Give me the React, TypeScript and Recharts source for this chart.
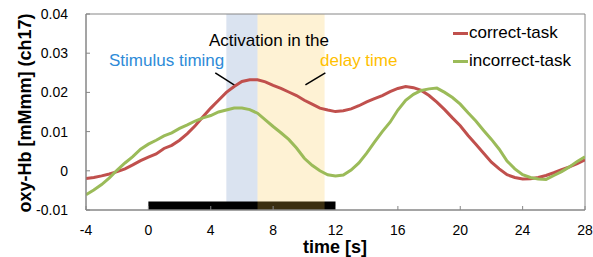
import React from 'react';
import {
  LineChart,
  Line,
  XAxis,
  YAxis,
  ReferenceArea,
  ReferenceLine,
  Label,
} from 'recharts';

// time axis (s), sampled every 0.5 s
const times = [
  -4, -3.5, -3, -2.5, -2, -1.5, -1, -0.5, 0, 0.5, 1, 1.5, 2, 2.5, 3, 3.5, 4, 4.5, 5, 5.5, 6, 6.5,
  7, 7.5, 8, 8.5, 9, 9.5, 10, 10.5, 11, 11.5, 12, 12.5, 13, 13.5, 14, 14.5, 15, 15.5, 16, 16.5,
  17, 17.5, 18, 18.5, 19, 19.5, 20, 20.5, 21, 21.5, 22, 22.5, 23, 23.5, 24, 24.5, 25, 25.5, 26,
  26.5, 27, 27.5, 28,
];

const correctTask = [
  -0.002, -0.0017, -0.0013, -0.0008, -0.0002, 0.0005, 0.0015, 0.0026, 0.0035, 0.0043, 0.0057,
  0.0065, 0.0078, 0.0095, 0.0115, 0.0138, 0.016, 0.018, 0.02, 0.0215, 0.0228, 0.0232, 0.0232,
  0.0227, 0.0218, 0.021, 0.0201, 0.0192, 0.018, 0.017, 0.016, 0.0155, 0.0151, 0.0153, 0.0158,
  0.0166, 0.0176, 0.0184, 0.0192, 0.0202, 0.021, 0.0215, 0.0212, 0.0205, 0.0192, 0.0175, 0.0156,
  0.0135, 0.0115, 0.009, 0.0068, 0.0045, 0.0022, 0.0005, -0.001, -0.0017, -0.0021, -0.002,
  -0.0017, -0.0012, -0.0005, 0.0003, 0.001, 0.0018, 0.0028,
];

const incorrectTask = [
  -0.0061, -0.0049, -0.0035, -0.0018, 0.0002, 0.002, 0.0036, 0.0055, 0.0068, 0.0078, 0.0089,
  0.0097, 0.0108, 0.0117, 0.0127, 0.0135, 0.0141, 0.015, 0.0155, 0.016, 0.016, 0.0156, 0.0147,
  0.013, 0.0113, 0.0097, 0.008, 0.0058, 0.0032, 0.0014, 0, -0.001, -0.0013, -0.0011, 0.0002,
  0.002, 0.0045, 0.0073, 0.01, 0.0124, 0.0155, 0.018, 0.0195, 0.0205, 0.0209, 0.0211, 0.02,
  0.0187, 0.017, 0.0148, 0.0127, 0.0103, 0.008, 0.0055, 0.0025, 0.0005, -0.001, -0.0017,
  -0.0021, -0.0022, -0.0012, -0.0002, 0.001, 0.0024, 0.0036,
];

const xTicks = [-4, 0, 4, 8, 12, 16, 20, 24, 28];
const yTicks = [-0.01, 0, 0.01, 0.02, 0.03, 0.04];

// shaded periods and the task bar (s)
const stimulusWindow = [5, 7];
const delayWindow = [7, 11.3];
const taskBar = [0, 12];

const seriesNames = ['correct-task', 'incorrect-task'];
const seriesColors = ['#c0504d', '#9bbb59'];

const data = times.map((t, i) => ({
  t,
  correct: correctTask[i],
  incorrect: incorrectTask[i],
}));

const FONT = '"Liberation Sans", Arial, sans-serif';
const AXIS = '#868686';

function LegendBox() {
  return (
    <div
      style={{
        position: 'absolute',
        left: 453,
        top: 19,
        fontFamily: FONT,
        fontSize: 17,
        color: '#000',
        lineHeight: '28px',
      }}
    >
      {seriesNames.map((name, i) => (
        <div key={name} style={{ display: 'flex', alignItems: 'center' }}>
          <span
            style={{
              display: 'inline-block',
              width: 15,
              height: 3,
              background: seriesColors[i],
              marginRight: 1,
            }}
          />
          {name}
        </div>
      ))}
    </div>
  );
}

// annotation texts sit above the shaded bands
function Annotations() {
  return (
    <svg
      width={593}
      height={257}
      style={{ position: 'absolute', left: 0, top: 0, pointerEvents: 'none' }}
    >
      <text x={269} y={46} textAnchor="middle" fontFamily={FONT} fontSize={17} fill="#000">
        Activation in the
      </text>
      <text x={109} y={66} fontFamily={FONT} fontSize={17} fill="#2e8bd8">
        Stimulus timing
      </text>
      <text x={320} y={66} fontFamily={FONT} fontSize={17} fill="#ffc000">
        delay time
      </text>
    </svg>
  );
}

export default function App() {
  return (
    <div style={{ position: 'absolute', left: 0, top: 0, width: 593, height: 257, background: '#fff', overflow: 'hidden' }}>
      <LineChart
        width={593}
        height={257}
        data={data}
        margin={{ top: 14, right: 8, bottom: 17, left: 0 }}
      >
        <XAxis
          dataKey="t"
          type="number"
          domain={[-4, 28]}
          ticks={xTicks}
          allowDataOverflow
          height={30}
          stroke={AXIS}
          tickSize={-4}
          tickMargin={19}
          tick={{ fill: '#000', fontSize: 14, fontFamily: FONT }}
        >
          <Label
            content={() => (
              <text
                x={335}
                y={253}
                textAnchor="middle"
                fontFamily={FONT}
                fontSize={18}
                fontWeight="bold"
                fill="#000"
              >
                time [s]
              </text>
            )}
          />
        </XAxis>
        <YAxis
          type="number"
          domain={[-0.01, 0.04]}
          ticks={yTicks}
          allowDataOverflow
          width={86}
          stroke={AXIS}
          tickSize={-4}
          tickMargin={22}
          tickFormatter={(v: number) => String(v)}
          tick={{ fill: '#000', fontSize: 14, fontFamily: FONT }}
        >
          <Label
            content={() => (
              <text
                x={31}
                y={113}
                transform="rotate(-90 31 113)"
                textAnchor="middle"
                fontFamily={FONT}
                fontSize={18}
                fontWeight="bold"
                fill="#000"
              >
                oxy-Hb [mMmm] (ch17)
              </text>
            )}
          />
        </YAxis>

        <ReferenceArea
          x1={stimulusWindow[0]}
          x2={stimulusWindow[1]}
          y1={-0.01}
          y2={0.04}
          fill="#dae3f0"
          fillOpacity={1}
          stroke="none"
        />
        <ReferenceArea
          x1={taskBar[0]}
          x2={taskBar[1]}
          y1={-0.01}
          y2={-0.0078}
          fill="#000"
          fillOpacity={1}
          stroke="none"
        />
        <ReferenceArea
          x1={delayWindow[0]}
          x2={delayWindow[1]}
          y1={-0.01}
          y2={0.04}
          fill="#fcc846"
          fillOpacity={0.23}
          stroke="none"
        />
        <ReferenceArea
          x1={-4}
          x2={28}
          y1={-0.01}
          y2={0.04}
          fill="none"
          stroke={AXIS}
          strokeWidth={1}
        />

        {/* callout strokes for the annotation */}
        <ReferenceLine
          segment={[
            { x: 4.29, y: 0.025 },
            { x: 5.57, y: 0.0217 },
          ]}
          stroke="#000"
          strokeWidth={1.5}
        />
        <ReferenceLine
          segment={[
            { x: 10.07, y: 0.0219 },
            { x: 11.35, y: 0.025 },
          ]}
          stroke="#000"
          strokeWidth={1.5}
        />

        <Line
          dataKey="correct"
          name={seriesNames[0]}
          stroke={seriesColors[0]}
          strokeWidth={3}
          dot={false}
          isAnimationActive={false}
        />
        <Line
          dataKey="incorrect"
          name={seriesNames[1]}
          stroke={seriesColors[1]}
          strokeWidth={3}
          dot={false}
          isAnimationActive={false}
        />
      </LineChart>
      <Annotations />
      <LegendBox />
    </div>
  );
}
